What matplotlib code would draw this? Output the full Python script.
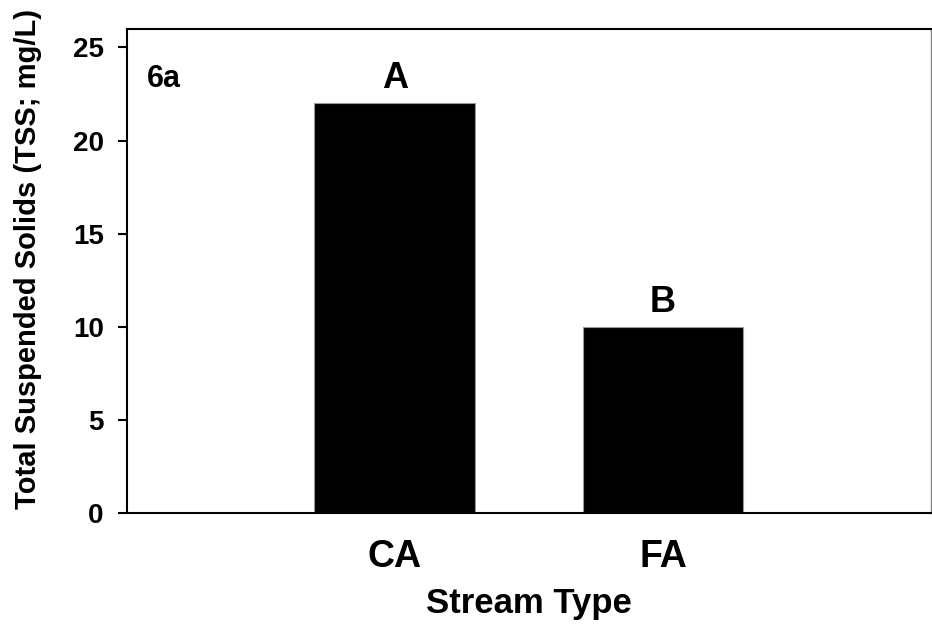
import matplotlib
matplotlib.use('Agg')
import matplotlib.pyplot as plt

# TSS by stream type
streams = ['CA', 'FA']
tss = [22, 10]
letters = ['A', 'B']

plt.rcParams['font.family'] = ['Liberation Sans', 'DejaVu Sans']
plt.rcParams['font.weight'] = 'bold'

fig = plt.figure(figsize=(9.32, 6.25), dpi=100)
ax = fig.add_axes([0.136, 0.179, 0.863, 0.775])

pos = [1, 2]
ax.bar(pos, tss, width=0.6, color='black', edgecolor='0.6', linewidth=0.8)

# significance letters above the bars
for x, v, l in zip(pos, tss, letters):
    ax.annotate(l, (x, v), xytext=(0, 11), textcoords='offset points',
                ha='center', va='baseline', fontsize=26, fontweight='bold')

ax.text(0.025, 0.880, '6a', transform=ax.transAxes, ha='left', va='baseline',
        fontsize=22, fontweight='bold')

ax.set_xlim(0, 3)
ax.set_ylim(0, 26)
ax.set_yticks([0, 5, 10, 15, 20, 25])
ax.set_xticks(pos)
ax.set_xticklabels(streams, fontsize=27, fontweight='bold')
ax.tick_params(axis='x', length=0, pad=18.5)
ax.tick_params(axis='y', length=6.5, width=1.5, pad=10, labelsize=20)

for s in ax.spines.values():
    s.set_linewidth(1.5)
ax.spines['right'].set_color('0.5')
ax.spines['right'].set_linewidth(1.0)

ax.set_xlabel('Stream Type', fontsize=25, fontweight='bold')
ax.xaxis.set_label_coords(0.5, -0.2066)
ax.xaxis.label.set_va('baseline')
ax.set_ylabel('Total Suspended Solids (TSS; mg/L)', fontsize=21, fontweight='bold')
ax.yaxis.set_label_coords(-0.1226, 0.525)
ax.yaxis.label.set_va('center')

fig.savefig('out.png', dpi=100)
